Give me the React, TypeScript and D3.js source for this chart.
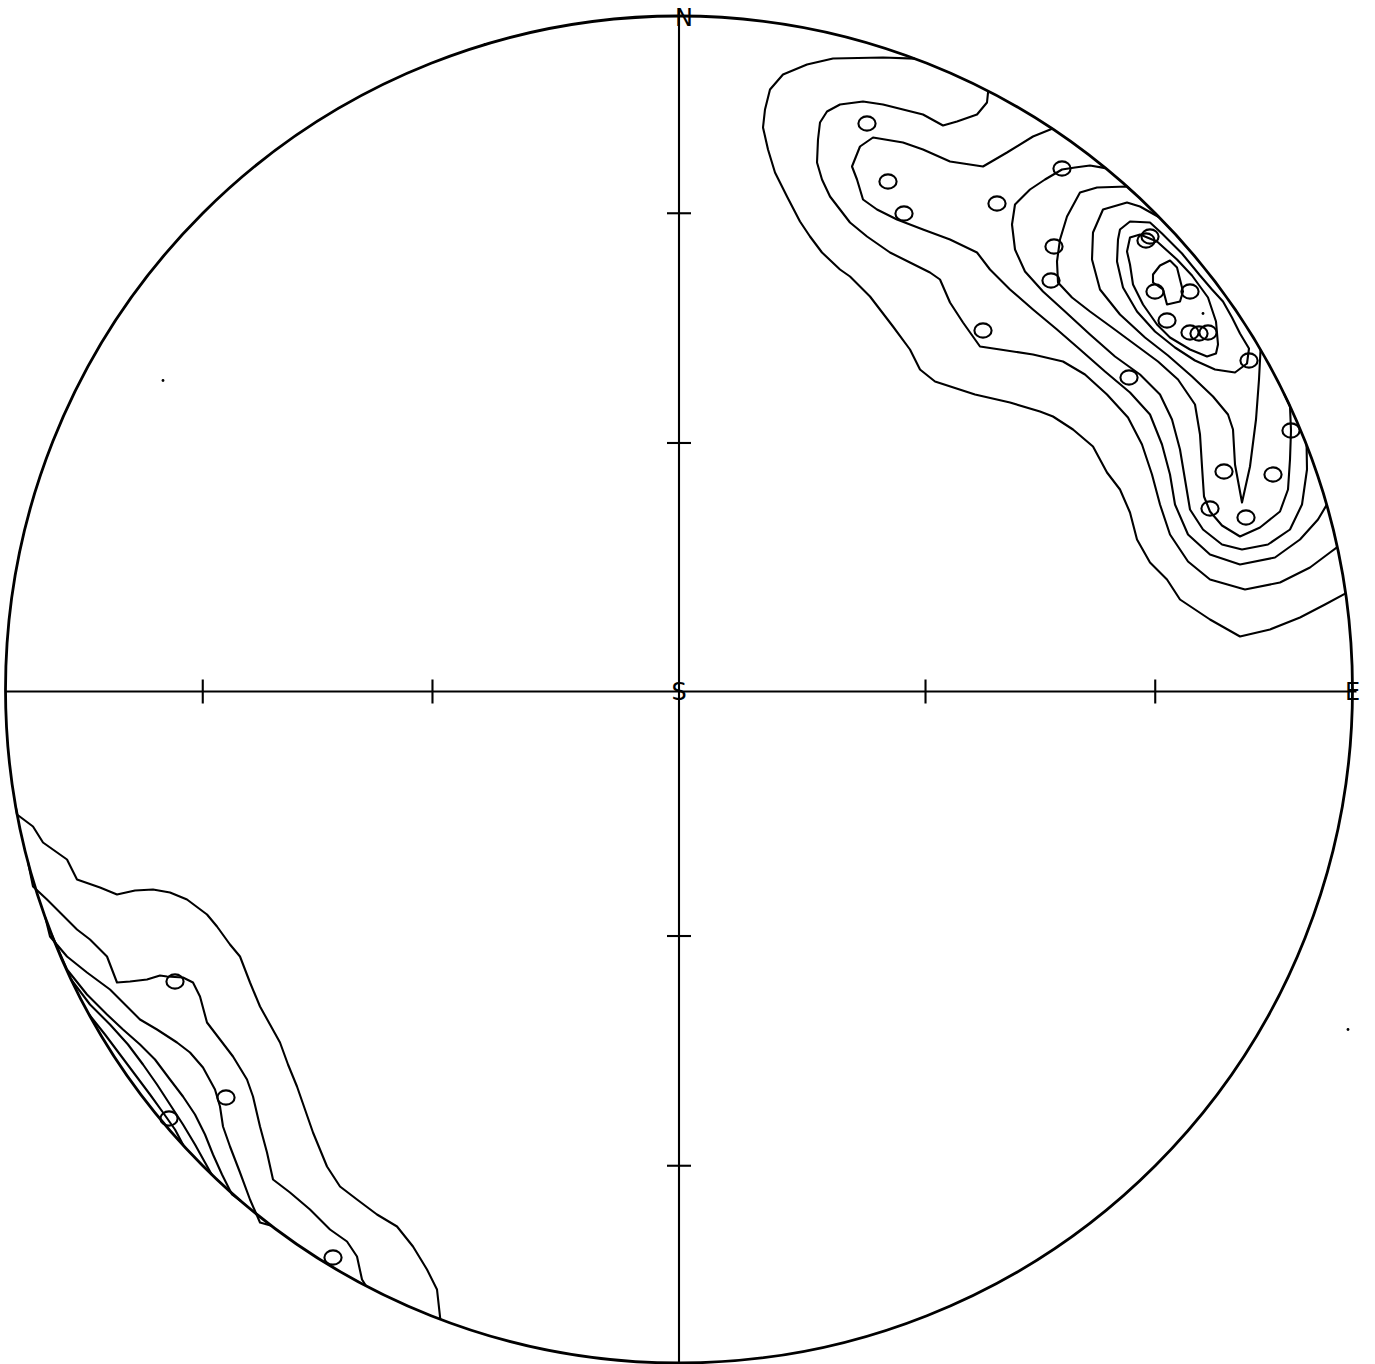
import React from "react";
import * as d3 from "d3";

// Equal-area (Schmidt) net, coordinates in plot units (net radius = 67.35)
const NET_R = 67.35;
const TICK_PLUNGES = [30, 60];
const LABELS = [
  { text: "N", x: 0.5, y: NET_R },
  { text: "S", x: 0, y: 0 },
  { text: "E", x: NET_R, y: 0 },
];

// Poles (open circles)
const NE_POLES: [number, number][] = [
  [18.8, 56.6], [20.9, 50.8], [22.5, 47.6], [31.8, 48.6], [38.3, 52.1],
  [37.5, 44.3], [37.2, 40.9], [30.4, 35.9], [45.0, 31.2], [46.7, 44.9],
  [47.1, 45.3], [47.6, 39.8], [51.1, 39.8], [48.8, 36.9], [51.1, 35.7],
  [52.0, 35.6], [52.9, 35.7], [57.0, 32.9], [61.2, 25.9], [54.5, 21.8],
  [59.4, 21.5], [53.1, 18.1], [56.7, 17.2],
];
const SW_POLES: [number, number][] = [
  [-50.4, -29.2], [-45.3, -40.8], [-51.0, -42.9], [-34.6, -56.8],
];
const STRAY_DOTS: [number, number][] = [
  [-51.6, 30.9], [-19.4, 64.5], [66.9, -34.0], [52.4, 37.6],
];

// Contour lines, NE cluster (outer to inner)
const NE_1: [number, number][] = [
  [23.7, 63.4], [20.4, 63.2], [15.4, 63.1], [12.8, 62.5], [10.4, 61.5], [9.1, 60.0],
  [8.6, 58.0], [8.4, 56.2], [8.9, 54.0], [9.6, 51.7], [10.8, 49.3], [12.1, 46.8],
  [13.1, 45.3], [14.3, 43.7], [16.1, 42.0], [17.1, 41.3], [19.1, 39.3], [21.4, 36.3],
  [23.1, 34.0], [24.1, 32.0], [25.6, 30.8], [29.6, 29.5], [33.1, 28.7], [36.1, 27.8],
  [37.4, 27.3], [39.4, 26.0], [41.4, 24.3], [42.8, 21.7], [44.1, 20.0], [45.1, 17.7],
  [45.8, 15.0], [47.1, 12.7], [48.8, 11.0], [50.1, 9.0], [53.1, 7.0], [56.1, 5.3],
  [59.1, 6.0], [62.1, 7.2], [64.6, 8.5], [66.6, 9.6],
];
const NE_2: [number, number][] = [
  [30.9, 59.8], [30.8, 58.7], [29.8, 57.5], [27.8, 56.8], [26.4, 56.4], [24.4, 57.5],
  [22.4, 58.0], [20.4, 58.5], [18.4, 58.8], [16.1, 58.5], [14.8, 57.8], [14.1, 56.7],
  [13.9, 55.0], [13.8, 52.7], [14.3, 51.0], [15.1, 49.3], [16.1, 48.0], [17.1, 46.7],
  [18.8, 45.3], [21.1, 43.7], [23.1, 42.7], [25.1, 41.7], [26.1, 41.0], [27.1, 38.7],
  [28.4, 36.7], [30.1, 34.3], [32.1, 34.0], [35.4, 33.5], [38.4, 32.8], [40.6, 31.5],
  [42.8, 29.5], [44.9, 27.2], [46.3, 24.5], [47.3, 21.5], [48.1, 18.5], [49.1, 15.5],
  [50.9, 12.8], [53.1, 11.0], [56.6, 10.0], [60.1, 10.7], [63.1, 12.2], [65.1, 13.7],
  [66.1, 14.3],
];
const NE_3: [number, number][] = [
  [37.4, 56.2], [35.4, 55.3], [32.8, 53.7], [30.4, 52.3], [27.1, 52.8], [24.4, 54.0],
  [22.4, 54.7], [19.4, 55.2], [18.1, 54.3], [17.3, 52.3], [17.8, 51.0], [18.4, 49.0],
  [19.8, 48.0], [21.8, 47.0], [24.4, 46.0], [27.1, 45.0], [29.8, 43.7], [31.1, 42.0],
  [33.1, 40.0], [35.4, 38.0], [37.8, 36.0], [40.1, 34.0], [42.6, 31.8], [45.1, 29.7],
  [47.1, 27.5], [48.3, 24.5], [49.1, 21.5], [49.6, 18.5], [50.9, 15.5], [53.1, 13.5],
  [56.1, 12.5], [59.6, 13.2], [62.1, 15.0], [63.9, 17.0], [64.9, 18.5],
];
const NE_4: [number, number][] = [
  [42.6, 52.1], [41.1, 52.4], [39.6, 52.2], [38.3, 52.0], [36.6, 51.0], [35.1, 50.0],
  [33.6, 48.5], [33.3, 46.5], [33.6, 44.0], [34.6, 41.8], [36.4, 39.8], [38.6, 37.8],
  [41.1, 35.5], [43.6, 33.3], [46.1, 31.5], [48.1, 29.5], [49.3, 27.0], [50.1, 24.0],
  [50.6, 21.0], [51.1, 18.0], [52.4, 16.0], [54.3, 14.5], [56.3, 14.0], [58.9, 14.5],
  [61.1, 16.0], [62.3, 18.5], [62.8, 22.0], [62.9, 24.5],
];
const NE_5: [number, number][] = [
  [45.8, 49.7], [44.8, 50.3], [41.8, 50.2], [40.1, 49.7], [38.8, 47.3], [38.1, 45.0],
  [37.8, 42.8], [37.9, 40.7], [39.3, 39.2], [41.1, 37.8], [43.3, 36.2], [45.6, 34.5],
  [47.9, 32.8], [49.9, 31.0], [51.6, 28.5], [52.1, 25.5], [52.3, 22.3], [52.5, 19.3],
  [53.1, 17.8], [54.3, 16.4], [56.1, 15.3], [58.1, 16.2], [60.1, 17.8], [60.9, 20.0],
  [61.1, 23.0], [61.2, 25.9], [61.1, 28.3], [60.6, 29.7],
];
const NE_6: [number, number][] = [
  [48.3, 47.5], [46.1, 48.3], [44.8, 48.7], [42.4, 48.0], [41.4, 45.7], [41.3, 43.0],
  [42.1, 40.0], [44.1, 37.5], [46.6, 35.2], [48.9, 33.4], [51.3, 31.3], [53.4, 29.3],
  [54.9, 27.5], [55.4, 26.0], [55.6, 22.5], [56.3, 18.7], [57.1, 22.3], [57.7, 27.0],
  [58.0, 31.0], [58.2, 34.0],
];
const NE_7: [number, number][] = [
  [43.9, 45.0], [43.8, 42.8], [44.4, 40.2], [45.8, 37.8], [47.6, 35.8], [49.6, 34.2],
  [51.6, 32.9], [53.6, 32.0], [55.6, 31.7], [56.8, 32.6], [57.0, 34.1], [56.1, 35.6],
  [55.3, 37.2], [54.4, 38.8], [53.3, 40.0], [52.1, 41.4], [50.3, 43.6], [48.3, 45.6],
  [47.1, 46.7], [45.1, 46.8], [44.1, 46.0],
];
const NE_8: [number, number][] = [
  [45.1, 45.2], [44.8, 43.8], [45.1, 42.5], [45.4, 40.5], [46.4, 38.5], [47.8, 36.5],
  [49.1, 35.2], [51.1, 34.0], [52.8, 33.3], [53.7, 33.6], [53.9, 34.5], [53.7, 36.8],
  [52.9, 39.2], [51.3, 41.4], [49.8, 43.0], [47.8, 44.8], [46.1, 45.5],
];
const NE_9: [number, number][] = [
  [47.4, 41.5], [48.1, 42.4], [49.1, 42.9], [49.8, 42.2], [50.1, 41.0], [50.4, 39.8],
  [50.1, 38.8], [48.8, 38.5], [48.4, 40.0], [47.4, 40.7],
];

// Contour lines, SW cluster (outer to inner)
const SW_1: [number, number][] = [
  [-67.1, -12.0], [-66.2, -12.5], [-64.6, -13.7], [-63.6, -15.3], [-61.2, -17.0],
  [-60.2, -19.0], [-57.9, -19.8], [-56.2, -20.5], [-54.4, -20.1], [-52.6, -20.0],
  [-50.9, -20.3], [-49.2, -21.0], [-47.2, -22.5], [-46.2, -23.7], [-44.9, -25.5],
  [-43.9, -26.7], [-42.9, -29.3], [-41.9, -31.7], [-40.9, -33.5], [-39.9, -35.3],
  [-39.1, -37.5], [-38.2, -39.7], [-37.4, -42.0], [-36.6, -44.3], [-35.9, -46.0],
  [-35.2, -47.7], [-33.9, -49.7], [-32.2, -51.0], [-30.2, -52.5], [-28.2, -53.7],
  [-26.6, -55.7], [-25.2, -58.0], [-24.2, -60.0], [-23.8, -62.8],
];
const SW_2: [number, number][] = [
  [-65.9, -17.5], [-64.6, -19.7], [-63.2, -21.0], [-61.7, -22.5], [-60.2, -24.0],
  [-58.9, -25.0], [-57.2, -26.7], [-56.2, -29.3], [-54.9, -29.2], [-53.2, -29.0],
  [-51.9, -28.6], [-51.2, -28.7], [-49.6, -28.8], [-48.6, -29.3], [-47.9, -30.7],
  [-47.2, -33.3], [-45.9, -35.0], [-44.6, -36.7], [-43.2, -39.0], [-42.6, -40.7],
  [-41.9, -43.7], [-41.2, -46.3], [-40.6, -49.0], [-38.9, -50.3], [-36.9, -52.0],
  [-34.9, -54.0], [-33.2, -55.2], [-32.2, -56.7], [-31.7, -59.0], [-31.5, -60.0],
];
const SW_3: [number, number][] = [
  [-63.9, -23.0], [-62.9, -24.7], [-61.2, -26.7], [-59.2, -28.3], [-56.9, -30.0],
  [-55.2, -31.7], [-53.9, -33.0], [-52.2, -34.0], [-50.2, -35.3], [-48.9, -36.3],
  [-47.6, -37.8], [-46.4, -40.0], [-45.9, -41.7], [-45.6, -43.7], [-44.9, -45.7],
  [-43.9, -48.3], [-42.9, -51.0], [-41.9, -53.3], [-41.2, -54.2],
];
const SW_4: [number, number][] = [
  [-62.9, -24.5], [-61.2, -28.0], [-59.2, -30.5], [-57.2, -32.5], [-55.6, -34.0],
  [-53.9, -35.5], [-52.4, -37.0], [-50.9, -39.0], [-49.6, -40.7], [-48.4, -42.5],
  [-47.4, -44.5], [-46.6, -46.5], [-45.7, -48.5], [-44.7, -50.5], [-44.1, -51.5],
];
const SW_5: [number, number][] = [
  [-60.9, -29.0], [-58.9, -31.5], [-56.9, -33.5], [-55.1, -35.5], [-53.6, -37.5],
  [-52.2, -39.5], [-50.9, -41.5], [-49.6, -43.5], [-48.4, -45.5], [-47.4, -47.3],
  [-46.7, -48.5],
];
const SW_6: [number, number][] = [
  [-59.0, -32.5], [-57.4, -34.5], [-55.9, -36.5], [-54.4, -38.5], [-52.9, -40.5],
  [-51.6, -42.3], [-50.4, -44.0], [-49.4, -45.5],
];

const CONTOURS = [
  { pts: NE_1, closed: false }, { pts: NE_2, closed: false }, { pts: NE_3, closed: false },
  { pts: NE_4, closed: false }, { pts: NE_5, closed: false }, { pts: NE_6, closed: false },
  { pts: NE_7, closed: true }, { pts: NE_8, closed: true }, { pts: NE_9, closed: true },
  { pts: SW_1, closed: false }, { pts: SW_2, closed: false }, { pts: SW_3, closed: false },
  { pts: SW_4, closed: false }, { pts: SW_5, closed: false }, { pts: SW_6, closed: false },
];

const W = 1375;
const H = 1364;
const CX = 679;
const CY = 689.5;
const RPX = 673.5;

function snap(p: [number, number]): [number, number] {
  const r = Math.hypot(p[0], p[1]);
  return [(p[0] / r) * NET_R, (p[1] / r) * NET_R];
}

export default function App() {
  const x = d3.scaleLinear().domain([-NET_R, NET_R]).range([CX - RPX, CX + RPX]);
  const y = d3.scaleLinear().domain([-NET_R, NET_R]).range([CY + RPX, CY - RPX]);
  const line = d3.line<[number, number]>().x((d) => x(d[0])).y((d) => y(d[1])).curve(d3.curveLinear);
  const closedLine = d3.line<[number, number]>().x((d) => x(d[0])).y((d) => y(d[1])).curve(d3.curveLinearClosed);

  const tickR = TICK_PLUNGES.map((p) => NET_R * Math.SQRT2 * Math.sin(((90 - p) / 2) * Math.PI / 180));
  const tickPos = tickR.flatMap((r) => [r, -r]);
  const TL = 1.2;
  const SW = 2.1;

  return (
    <svg width={W} height={H} style={{ position: "absolute", left: 0, top: 0, background: "#fff" }}>
      <rect x={0} y={0} width={W} height={H} fill="#fff" />
      {/* axes */}
      <line x1={x(-NET_R)} y1={y(0) + 2} x2={x(NET_R) + 4} y2={y(0) + 2} stroke="#000" strokeWidth={2.1} />
      <line x1={x(0)} y1={y(NET_R) - 6} x2={x(0)} y2={y(-NET_R)} stroke="#000" strokeWidth={2.1} />
      {tickPos.map((t, i) => (
        <g key={"t" + i}>
          <line x1={x(t)} y1={y(TL) + 2} x2={x(t)} y2={y(-TL) + 2} stroke="#000" strokeWidth={2.1} />
          <line x1={x(-TL)} y1={y(t)} x2={x(TL)} y2={y(t)} stroke="#000" strokeWidth={2.1} />
        </g>
      ))}
      {/* contours */}
      {CONTOURS.map((c, i) => {
        if (c.closed) {
          return <path key={"c" + i} d={closedLine(c.pts) || ""} fill="none" stroke="#000" strokeWidth={SW} strokeLinejoin="round" />;
        }
        const pts = c.pts.slice();
        pts[0] = snap(pts[0]);
        pts[pts.length - 1] = snap(pts[pts.length - 1]);
        return <path key={"c" + i} d={line(pts) || ""} fill="none" stroke="#000" strokeWidth={SW} strokeLinejoin="round" />;
      })}
      {/* net circle */}
      <circle cx={x(0)} cy={y(0)} r={x(NET_R) - x(0)} fill="none" stroke="#000" strokeWidth={2.8} />
      {/* poles */}
      {[...NE_POLES, ...SW_POLES].map((p, i) => (
        <ellipse key={"p" + i} cx={x(p[0])} cy={y(p[1])} rx={8.6} ry={7.1} fill="none" stroke="#000" strokeWidth={2.1} />
      ))}
      {STRAY_DOTS.map((p, i) => (
        <circle key={"d" + i} cx={x(p[0])} cy={y(p[1])} r={1.4} fill="#000" />
      ))}
      {/* labels */}
      {LABELS.map((l, i) => (
        <text key={"l" + i} x={x(l.x)} y={y(l.y) + 2} textAnchor="middle" dominantBaseline="central"
          fontFamily="DejaVu Sans, sans-serif" fontSize={24} fontWeight={400} fill="#000">
          {l.text}
        </text>
      ))}
    </svg>
  );
}
